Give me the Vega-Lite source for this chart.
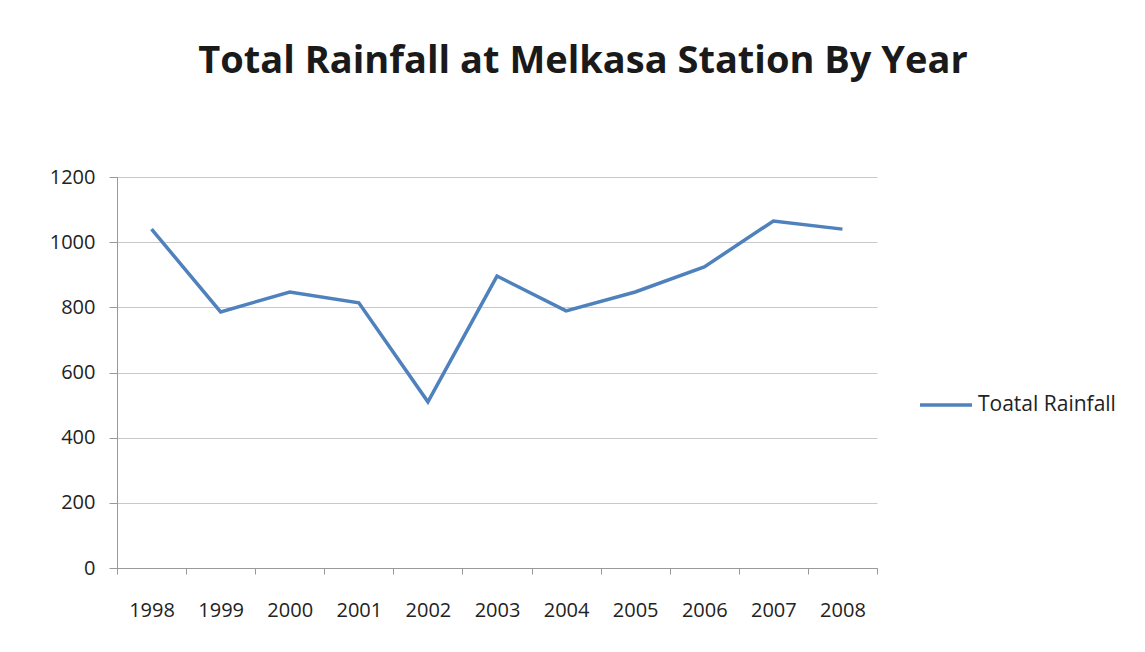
{
  "$schema": "https://vega.github.io/schema/vega-lite/v6.json",
  "width": 760,
  "height": 391,
  "autosize": {"type": "none"},
  "padding": {"left": 117, "top": 177, "right": 268, "bottom": 84},
  "background": "white",
  "title": {
    "text": "Total Rainfall at Melkasa Station By Year",
    "anchor": "middle",
    "dx": 86,
    "offset": 86,
    "font": "Open Sans",
    "fontSize": 38,
    "fontWeight": "bold",
    "color": "#1a1a1a"
  },
  "data": {
    "values": [
      {"year": "1998", "rainfall": 1040, "series": "Toatal Rainfall"},
      {"year": "1999", "rainfall": 786, "series": "Toatal Rainfall"},
      {"year": "2000", "rainfall": 847, "series": "Toatal Rainfall"},
      {"year": "2001", "rainfall": 814, "series": "Toatal Rainfall"},
      {"year": "2002", "rainfall": 510, "series": "Toatal Rainfall"},
      {"year": "2003", "rainfall": 896, "series": "Toatal Rainfall"},
      {"year": "2004", "rainfall": 789, "series": "Toatal Rainfall"},
      {"year": "2005", "rainfall": 847, "series": "Toatal Rainfall"},
      {"year": "2006", "rainfall": 924, "series": "Toatal Rainfall"},
      {"year": "2007", "rainfall": 1065, "series": "Toatal Rainfall"},
      {"year": "2008", "rainfall": 1040, "series": "Toatal Rainfall"}
    ]
  },
  "mark": {"type": "line", "strokeWidth": 3.5},
  "encoding": {
    "x": {
      "field": "year",
      "type": "ordinal",
      "scale": {"type": "band", "paddingInner": 0, "paddingOuter": 0},
      "axis": {
        "title": null,
        "labelAngle": 0,
        "labelFont": "Open Sans",
        "labelFontSize": 20,
        "labelColor": "#222",
        "labelPadding": 26,
        "tickBand": "extent",
        "tickSize": 6,
        "tickColor": "#999",
        "domainColor": "#999",
        "grid": false
      }
    },
    "y": {
      "field": "rainfall",
      "type": "quantitative",
      "scale": {"domain": [0, 1200], "nice": false},
      "axis": {
        "title": null,
        "values": [0, 200, 400, 600, 800, 1000, 1200],
        "format": "d",
        "labelFont": "Open Sans",
        "labelFontSize": 20,
        "labelColor": "#222",
        "labelPadding": 14,
        "tickSize": 8,
        "tickColor": "#999",
        "domainColor": "#999",
        "gridColor": "#c8c8c8",
        "gridWidth": 1
      }
    },
    "color": {
      "field": "series",
      "type": "nominal",
      "scale": {"range": ["#4F81BD"]},
      "legend": {
        "title": null,
        "orient": "none",
        "legendX": 801,
        "legendY": 200,
        "symbolType": "stroke",
        "symbolSize": 2700,
        "symbolStrokeWidth": 3.5,
        "labelFont": "Open Sans",
        "labelFontSize": 21,
        "labelColor": "#222",
        "labelOffset": 4
      }
    }
  },
  "config": {"view": {"stroke": null}}
}
